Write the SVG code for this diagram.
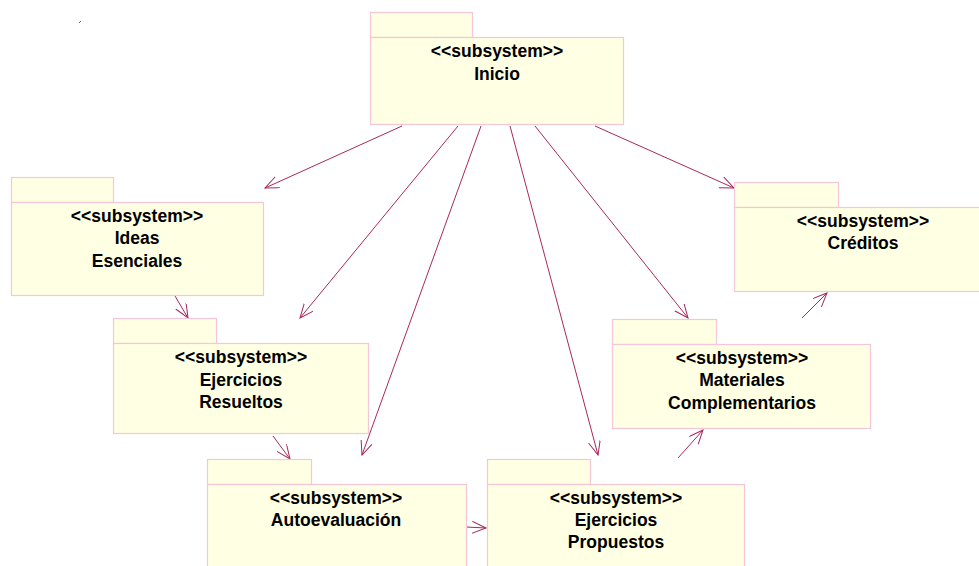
<svg xmlns="http://www.w3.org/2000/svg" width="979" height="566" viewBox="0 0 979 566">
<defs>
<style>
.pk{fill:#ffffe3;stroke:#f5c6d8;stroke-width:1.2}
.t{font-family:"Liberation Sans",Arial,sans-serif;font-weight:bold;font-size:17.5px;fill:#000;text-anchor:middle}
.c{stroke:#a8285a;stroke-width:1;fill:none;marker-end:url(#ah)}
</style>
<marker id="ah" markerUnits="userSpaceOnUse" markerWidth="16" markerHeight="14" refX="14" refY="6" orient="auto">
<path d="M0,0 L14,6 L0,12" fill="none" stroke="#a8285a" stroke-width="1"/>
</marker>
</defs>
<rect width="979" height="566" fill="#fff"/>
<line x1="79" y1="23" x2="81" y2="21" stroke="#d03070" stroke-width="1"/>
<g id="connectors">
<line class="c" x1="402" y1="126" x2="265" y2="188"/>
<line class="c" x1="458" y1="126" x2="300" y2="318"/>
<line class="c" x1="481" y1="126" x2="362" y2="455"/>
<line class="c" x1="510" y1="126" x2="598" y2="455"/>
<line class="c" x1="535" y1="126" x2="688" y2="318"/>
<line class="c" x1="595" y1="126" x2="734" y2="188"/>
<line class="c" x1="175" y1="296" x2="188" y2="318"/>
<line class="c" x1="273" y1="436" x2="290" y2="459"/>
<line class="c" x1="466" y1="527" x2="486" y2="528"/>
<line class="c" x1="678" y1="458" x2="703" y2="430"/>
<line class="c" x1="802" y1="318" x2="827" y2="293"/>
</g>
<g id="inicio">
<rect class="pk" x="370.5" y="12.5" width="102" height="25"/>
<rect class="pk" x="370.5" y="37.5" width="253" height="87"/>
<text class="t" x="497" y="57">&lt;&lt;subsystem&gt;&gt;</text>
<text class="t" x="497" y="80">Inicio</text>
</g>
<g id="ideas">
<rect class="pk" x="11.5" y="177.5" width="102" height="25"/>
<rect class="pk" x="11.5" y="202.5" width="252" height="93"/>
<text class="t" x="137" y="222">&lt;&lt;subsystem&gt;&gt;</text>
<text class="t" x="137" y="244">Ideas</text>
<text class="t" x="137" y="267">Esenciales</text>
</g>
<g id="creditos">
<rect class="pk" x="734.5" y="182.5" width="104" height="25"/>
<rect class="pk" x="734.5" y="207.5" width="258" height="84"/>
<text class="t" x="863" y="227">&lt;&lt;subsystem&gt;&gt;</text>
<text class="t" x="863" y="249">Créditos</text>
</g>
<g id="resueltos">
<rect class="pk" x="113.5" y="318.5" width="103" height="25"/>
<rect class="pk" x="113.5" y="343.5" width="255" height="90"/>
<text class="t" x="241" y="363">&lt;&lt;subsystem&gt;&gt;</text>
<text class="t" x="241" y="386">Ejercicios</text>
<text class="t" x="241" y="408">Resueltos</text>
</g>
<g id="materiales">
<rect class="pk" x="612.5" y="319.5" width="104" height="25"/>
<rect class="pk" x="612.5" y="344.5" width="258" height="84"/>
<text class="t" x="742" y="364">&lt;&lt;subsystem&gt;&gt;</text>
<text class="t" x="742" y="386">Materiales</text>
<text class="t" x="742" y="409">Complementarios</text>
</g>
<g id="autoevaluacion">
<rect class="pk" x="207.5" y="459.5" width="104" height="25"/>
<rect class="pk" x="207.5" y="484.5" width="259" height="90"/>
<text class="t" x="336" y="504">&lt;&lt;subsystem&gt;&gt;</text>
<text class="t" x="336" y="526">Autoevaluación</text>
</g>
<g id="propuestos">
<rect class="pk" x="487.5" y="459.5" width="103" height="25"/>
<rect class="pk" x="487.5" y="484.5" width="257" height="90"/>
<text class="t" x="616" y="504">&lt;&lt;subsystem&gt;&gt;</text>
<text class="t" x="616" y="526">Ejercicios</text>
<text class="t" x="616" y="548">Propuestos</text>
</g>
</svg>
